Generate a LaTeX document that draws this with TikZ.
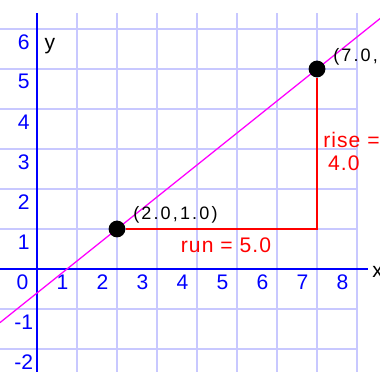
\documentclass[tikz,border=0pt]{standalone}
\usepackage{fontspec}
\setmainfont{Liberation Sans}
\newfontfamily\coordfont[LetterSpace=12]{Liberation Sans}
\newfontfamily\measurefont[LetterSpace=5]{Liberation Sans}
\definecolor{gridblue}{RGB}{200,200,255}
\definecolor{axisblue}{RGB}{0,0,255}
\definecolor{linemagenta}{RGB}{255,0,255}
\definecolor{legred}{RGB}{255,0,0}

\begin{document}
\begin{tikzpicture}[
    x=1cm,
    y=1cm,
    line cap=butt,
    every node/.style={inner sep=0pt, font=\fontsize{15}{18}\selectfont},
    ticklabel/.style={text=axisblue},
    pointlabel/.style={anchor=west, font=\coordfont\fontsize{12.8}{15}\selectfont},
    measure/.style={text=legred, font=\measurefont\fontsize{15}{16.4}\selectfont},
    dot/.style={circle, fill=black, minimum size=0.42cm}
]

\useasboundingbox (-0.925,-2.575) rectangle (8.575,6.725);
\clip (-0.925,-2.575) rectangle (8.575,6.725);

% Grid
\foreach \x in {1,...,8}{
    \draw[gridblue, line width=1.4pt] (\x,-2.575) -- (\x,6.4);
}
\foreach \y in {-2,...,6}{
    \draw[gridblue, line width=1.4pt] (-0.925,\y) -- (8,\y);
}

% Axes
\draw[axisblue, line width=1.5pt] (-0.925,0) -- (8.275,0);
\draw[axisblue, line width=1.5pt] (0,-2.575) -- (0,6.4);
\node (xlab) [anchor=west] at (8.375,-0.07) {x};
\node (ylab) at (0.325,5.575) {y};

% Tick labels
\foreach \v in {0,...,8}{
    \node (xt\v) [ticklabel] at (\v-0.36,-0.33) {\v};
}
\foreach \v in {-2,-1,1,2,3,4,5,6}{
    \node (yt\v) [ticklabel] at (-0.33,\v-0.32) {\v};
}

% Line through the two points
\coordinate (lineL) at (-0.925,-1.34);
\coordinate (lineR) at (8.8,6.44);
\draw[linemagenta, line width=0.9pt] (lineL) -- (lineR);

% Points, run and rise
\node (p1) [dot] at (2,1) {};
\node (p2) [dot] at (7,5) {};
\coordinate (corner) at (7,1);
\draw[legred, line width=1.4pt] (p1) -- (corner) -- (p2);

\node (p1lab) [pointlabel] at ([shift={(0.4,0.35)}]p1.center) {(2.0,1.0)};
\node (p2lab) [pointlabel] at ([shift={(0.4,0.3)}]p2.center) {(7.0,5.0)};

\node (run) [measure] at (4.725,0.6) {run = 5.0};
\node (rise) [measure, anchor=west, align=left] at (7.15,2.94)
      {rise =\\\hspace*{0.12cm}4.0};

\end{tikzpicture}
\end{document}
